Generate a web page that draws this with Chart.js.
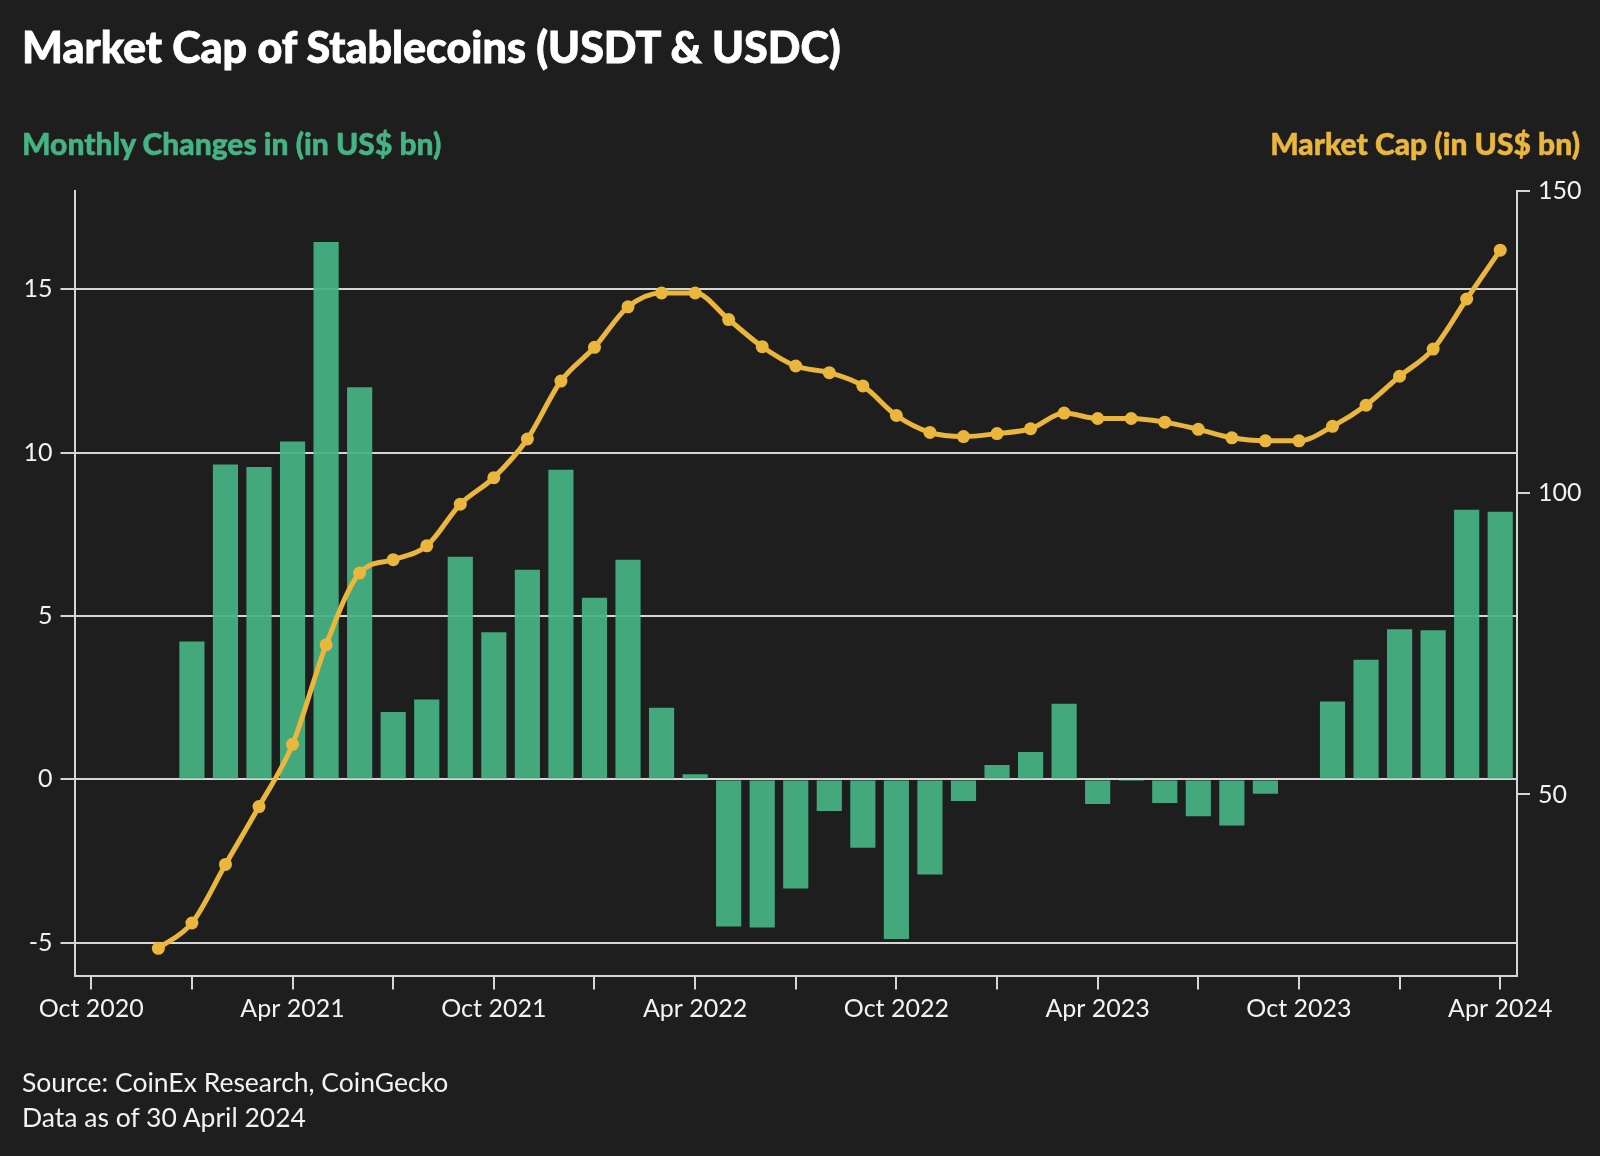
<!DOCTYPE html>
<html>
<head>
<meta charset="utf-8">
<title>Market Cap of Stablecoins (USDT & USDC)</title>
<script src="https://cdn.jsdelivr.net/npm/chart.js@4/dist/chart.umd.min.js"></script>
<style>
    body { margin: 0; background: #1e1e1e; }
    .wrapper { position: relative; width: 1600px; height: 1156px; background: #1e1e1e; font-family: Lato, "Noto Sans", sans-serif; }
    .wrapper canvas { position: absolute; left: 0; top: 0; }
    .txt { position: absolute; line-height: 1; white-space: nowrap; }
    .title { left: 22px; top: 25px; font-size: 43px; font-weight: 900; color: #ffffff; -webkit-text-stroke: 0.8px #ffffff; }
    .leftTitle { left: 22px; top: 128px; font-size: 30px; font-weight: 900; color: #45b383; -webkit-text-stroke: 0.5px #45b383; }
    .rightTitle { right: 20px; top: 128px; font-size: 30px; font-weight: 900; color: #eab63c; -webkit-text-stroke: 0.5px #eab63c; }
    .source { left: 22px; font-size: 26.5px; color: #f2f2f2; }
</style>
</head>
<body>
<div class="wrapper">
    <canvas id="myChart" width="1600" height="1156"></canvas>
    <div class="txt title">Market Cap of Stablecoins (USDT &amp; USDC)</div>
    <div class="txt leftTitle">Monthly Changes in (in US$ bn)</div>
    <div class="txt rightTitle">Market Cap (in US$ bn)</div>
    <div class="txt source" style="top:1069px">Source: CoinEx Research, CoinGecko</div>
    <div class="txt source" style="top:1104px">Data as of 30 April 2024</div>
</div>
<script>
const months = [
    "Oct 2020", "Nov 2020", "Dec 2020",
    "Jan 2021", "Feb 2021", "Mar 2021", "Apr 2021", "May 2021", "Jun 2021",
    "Jul 2021", "Aug 2021", "Sep 2021", "Oct 2021", "Nov 2021", "Dec 2021",
    "Jan 2022", "Feb 2022", "Mar 2022", "Apr 2022", "May 2022", "Jun 2022",
    "Jul 2022", "Aug 2022", "Sep 2022", "Oct 2022", "Nov 2022", "Dec 2022",
    "Jan 2023", "Feb 2023", "Mar 2023", "Apr 2023", "May 2023", "Jun 2023",
    "Jul 2023", "Aug 2023", "Sep 2023", "Oct 2023", "Nov 2023", "Dec 2023",
    "Jan 2024", "Feb 2024", "Mar 2024", "Apr 2024"
]

// monthly change, US$ bn (left axis)
const monthlyChange = [
    null, null, null,
    4.22, 9.63, 9.56, 10.34, 16.44, 12.0, 2.06, 2.44, 6.81, 4.5, 6.41, 9.47,
    5.56, 6.72, 2.19, 0.16, -4.5, -4.53, -3.34, -0.97, -2.09, -4.88, -2.91, -0.66,
    0.44, 0.84, 2.31, -0.75, -0.05, -0.72, -1.13, -1.41, -0.44, 0, 2.38, 3.66,
    4.59, 4.56, 8.25, 8.19
]

// market cap, US$ bn (right axis)
const marketCap = [
    null, null, 24.5,
    28.7, 38.4, 48.0, 58.3, 74.8, 86.7, 88.9, 91.2, 98.1, 102.5, 108.9, 118.5,
    124.1, 130.8, 133.1, 133.1, 128.7, 124.2, 121.0, 119.9, 117.7, 112.8, 110.0, 109.3,
    109.8, 110.6, 113.2, 112.3, 112.3, 111.7, 110.5, 109.1, 108.6, 108.6, 111.0, 114.5,
    119.3, 123.8, 132.1, 140.2
]

const leftTicks = [-5, 0, 5, 10, 15]
const rightTicks = [50, 100, 150]

const axisColor = "#d6d6d6"
const tickFont = { family: "Lato, 'Noto Sans', sans-serif", size: 25 }

const myChartRef = document.getElementById("myChart").getContext("2d")
new Chart(myChartRef, {
    data: {
        labels: months,
        datasets: [
            {
                type: "line",
                label: "Market Cap",
                data: marketCap,
                yAxisID: "y1",
                borderColor: "#eab63c",
                backgroundColor: "#eab63c",
                borderWidth: 5,
                pointRadius: 6.5,
                pointBorderWidth: 0,
                cubicInterpolationMode: "monotone",
                order: 0
            },
            {
                type: "bar",
                label: "Monthly Changes",
                data: monthlyChange,
                yAxisID: "y",
                backgroundColor: "rgba(70,180,131,0.93)",
                barPercentage: 0.75,
                categoryPercentage: 1,
                order: 1
            }
        ]
    },
    options: {
        responsive: false,
        animation: false,
        layout: { padding: { top: 191, left: 0, right: 0, bottom: 0 } },
        plugins: {
            legend: { display: false },
            tooltip: { enabled: false }
        },
        scales: {
            x: {
                type: "category",
                offset: true,
                grid: {
                    offset: false,
                    drawOnChartArea: false,
                    drawTicks: true,
                    tickLength: 14,
                    lineWidth: 2,
                    tickColor: ctx => (ctx.index % 3 === 0 ? axisColor : "transparent")
                },
                border: { display: true, color: axisColor, width: 2 },
                ticks: {
                    autoSkip: false,
                    maxRotation: 0,
                    padding: 4,
                    color: "#f2f2f2",
                    font: tickFont,
                    callback: (val, i) => (i % 6 === 0 ? months[i] : "")
                },
                afterFit: s => { s.height = 180.5 }
            },
            y: {
                type: "linear",
                position: "left",
                min: -6,
                max: 18,
                afterBuildTicks: s => { s.ticks = leftTicks.map(v => ({ value: v })) },
                grid: { color: axisColor, lineWidth: 2, drawTicks: true, tickLength: 14 },
                border: { display: true, color: axisColor, width: 2 },
                ticks: { color: "#f2f2f2", font: tickFont, padding: 8 },
                afterFit: s => { s.width = 74.5 }
            },
            y1: {
                type: "linear",
                position: "right",
                min: 20,
                max: 150,
                afterBuildTicks: s => { s.ticks = rightTicks.map(v => ({ value: v })) },
                grid: { drawOnChartArea: false, color: axisColor, lineWidth: 2, drawTicks: true, tickLength: 13 },
                border: { display: true, color: axisColor, width: 2 },
                ticks: { color: "#f2f2f2", font: tickFont, padding: 8 },
                afterFit: s => { s.width = 83 }
            }
        }
    }
})
</script>
</body>
</html>
